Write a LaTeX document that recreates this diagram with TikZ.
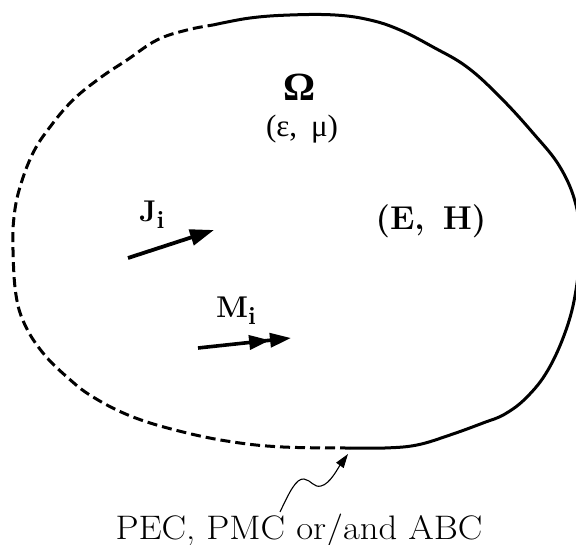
\documentclass[tikz,border=0pt]{standalone}
\usepackage{fontspec}
\newfontfamily\greekfont{Liberation Serif}
\usetikzlibrary{arrows.meta}
\tikzset{
  boundary/.style={line width=3pt, line join=round},
  bdashed/.style={boundary, dash pattern=on 10pt off 5pt},
  source/.style={line width=3.8pt, -{Triangle[length=24pt,width=16pt]}},
  msource/.style={line width=3.6pt, -{Triangle[length=21pt,width=14pt]Triangle[length=21pt,width=14pt]}},
  lbl/.style={inner sep=0pt},
}
\newcommand{\subi}{\raisebox{-7pt}{\fontsize{25}{27}\selectfont\bfseries i}}
\begin{document}
\begin{tikzpicture}[x=1pt,y=-1pt]
\useasboundingbox (0,0) rectangle (576,545);
% solid part of the boundary
\draw[boundary] plot[smooth, tension=0.65] coordinates {
 (213,25) (250,18) (290,15) (335,15) (370,20) (400,30) (433,47) (467,67)
 (500,97) (533,133) (560,167) (576,205) (580,245) (576,290) (566,330)
 (548,370) (527,397) (505,414) (483,423) (450,435) (417,445) (385,448) (350,448)};
% dashed part of the boundary
\draw[bdashed] plot[smooth, tension=0.65] coordinates {
 (350,448) (283,447) (233,442) (183,432) (133,417) (93,397) (67,377) (43,353)
 (25,325) (16,295) (13,250) (14,217) (20,187) (33,153) (50,127) (73,100)
 (100,78) (127,60) (157,40) (187,30) (213,25)};
\coordinate (bc) at (348,454);

% labels
\node[lbl, anchor=base] (omega) at (300,101) {\greekfont\bfseries\fontsize{40}{44}\selectfont Ω};
\node[lbl] (mat) at (302,129) {\greekfont\fontsize{31}{34}\selectfont (ε,\hspace{0.45em}μ)};
\node[lbl, anchor=base] (EH) at (431,230) {\fontsize{33}{36}\selectfont\bfseries (E,\hspace{0.55em}H)};
\node[lbl, anchor=base west] (Ji) at (139,222) {\fontsize{30}{32}\selectfont\bfseries J\subi};
\node[lbl, anchor=base west] (Mi) at (216,318) {\fontsize{30}{32}\selectfont\bfseries M\subi};
\node[lbl, anchor=base] (bctext) at (299,539) {\scalebox{1.08}[1]{\fontsize{34}{38}\selectfont PEC, PMC or/and ABC}};

% source arrows
\coordinate (j0) at (128,258);
\coordinate (j1) at (214,230);
\draw[source] (j0) -- (j1);
\coordinate (m0) at (198,348);
\coordinate (m1) at (291,338);
\draw[msource] (m0) -- (m1);

% wavy pointer
\coordinate (w0) at (280,512);
\draw[line width=1.1pt, -{Triangle[length=14pt,width=9pt]}] (w0)
  .. controls (289,493) and (296,478) .. (304,479)
  .. controls (311,480) and (314,488) .. (321,486)
  .. controls (330,484) and (338,468) .. (bc);
\end{tikzpicture}
\end{document}
